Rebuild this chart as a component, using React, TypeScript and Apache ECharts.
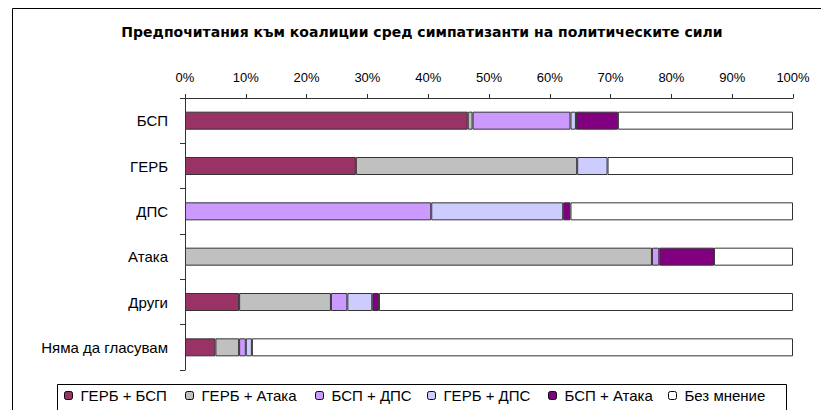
import React, { useEffect, useRef } from "react";
import * as echarts from "echarts";

const TITLE = "Предпочитания към коалиции сред симпатизанти на политическите сили";
const categories = ["БСП", "ГЕРБ", "ДПС", "Атака", "Други", "Няма да гласувам"];
const seriesNames = ["ГЕРБ + БСП", "ГЕРБ + Атака", "БСП + ДПС", "ГЕРБ + ДПС", "БСП + Атака", "Без мнение"];
const gerbBsp = [46.5, 28.1, 0, 0, 8.9, 5.0];
const gerbAtaka = [0.8, 36.4, 0, 76.8, 15.1, 3.9];
const bspDps = [16.1, 0, 40.5, 1.2, 2.7, 1.1];
const gerbDps = [0.9, 5.0, 21.7, 0, 4.1, 1.0];
const bspAtaka = [6.9, 0, 1.2, 9.0, 1.1, 0];
const bezMnenie = [28.8, 30.5, 36.6, 13.0, 68.1, 89.0];
const seriesValues = [gerbBsp, gerbAtaka, bspDps, gerbDps, bspAtaka, bezMnenie];
const colors = ["#993366", "#c0c0c0", "#cc99ff", "#ccccff", "#800080", "#ffffff"];
const xTicks = [0, 10, 20, 30, 40, 50, 60, 70, 80, 90, 100];

const legendX = [64, 185, 315, 427, 548, 668];
const FONT = "Liberation Sans, Arial, sans-serif";

export default function App() {
  const ref = useRef<HTMLDivElement>(null);
  useEffect(() => {
    document.body.style.margin = "0";
    const chart = echarts.init(ref.current!, undefined, { renderer: "svg" });
    chart.setOption({
      animation: false,
      backgroundColor: "#ffffff",
      textStyle: { fontFamily: FONT },
      graphic: [
        {
          type: "rect",
          shape: { x: 12.5, y: 8.5, width: 1000, height: 600 },
          style: { fill: "none", stroke: "#000", lineWidth: 1 },
          z: -10,
          silent: true,
        },
        {
          type: "rect",
          shape: { x: 57.5, y: 384.5, width: 729, height: 60 },
          style: { fill: "none", stroke: "#000", lineWidth: 1 },
          silent: true,
        },
        {
          type: "text",
          x: 422,
          y: 32,
          style: {
            text: TITLE,
            fontFamily: "DejaVu Sans, sans-serif",
            fontSize: 14,
            fontWeight: "bold",
            fill: "#000",
            align: "center",
            verticalAlign: "middle",
          },
        },
      ],
      legend: seriesNames.map((n, i) => ({
        data: [n],
        left: legendX[i],
        top: 388,
        padding: 0,
        itemWidth: 8,
        itemHeight: 8,
        itemGap: 0,
        selectedMode: false,
        textStyle: { fontSize: 15, fontFamily: FONT, color: "#000", padding: [0, 0, 0, 3] },
        itemStyle: { borderColor: "#000", borderWidth: 1 },
      })),
      grid: { left: 185, right: 28, top: 98, bottom: 40, containLabel: false },
      xAxis: {
        type: "value",
        position: "top",
        min: 0,
        max: 100,
        interval: 10,
        splitLine: { show: false },
        axisLine: { show: true, lineStyle: { color: "#333", width: 1 } },
        axisTick: { show: true, length: 4, lineStyle: { color: "#333" } },
        axisLabel: {
          formatter: (v: number) => (xTicks.includes(v) ? v + "%" : ""),
          fontSize: 13,
          color: "#000",
          margin: 14,
        },
      },
      yAxis: {
        type: "category",
        inverse: true,
        data: categories,
        axisLine: { show: true, lineStyle: { color: "#333", width: 1 } },
        axisTick: { show: true, length: 5, alignWithLabel: false, lineStyle: { color: "#333" } },
        axisLabel: { fontSize: 15, color: "#000", margin: 17 },
      },
      series: seriesNames.map((n, i) => ({
        name: n,
        type: "bar",
        stack: "total",
        barWidth: 18,
        itemStyle: { color: colors[i], borderColor: "#333", borderWidth: 1 },
        emphasis: { disabled: true },
        data: seriesValues[i].map((v) => (v === 0 ? "-" : v)),
      })),
    });
    return () => chart.dispose();
  }, []);
  return <div ref={ref} style={{ width: 821, height: 410 }} />;
}
